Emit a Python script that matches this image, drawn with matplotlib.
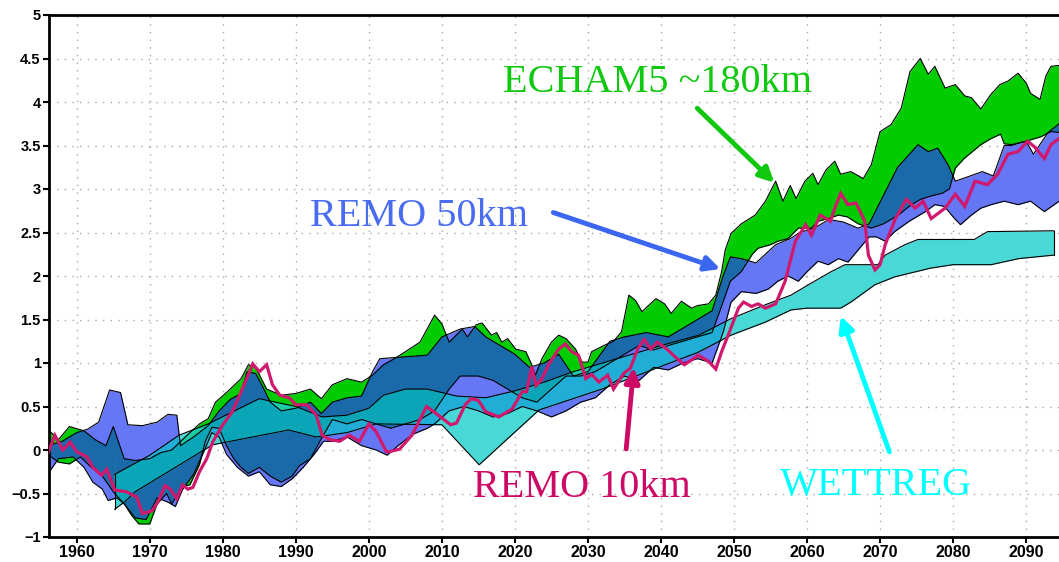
import numpy as np
import matplotlib
matplotlib.use("Agg")
import matplotlib.pyplot as plt

# ---------------- data ----------------
# ECHAM5 ~180km (green band)
echam_hi_years = [1956, 1957.5, 1959, 1961, 1962.5, 1964, 1965, 1966.5, 1968, 1970, 1971.5, 1973, 1974.5,
                  1975.5, 1976.8, 1978, 1979, 1980.5, 1982.5, 1983.5, 1984.5, 1986, 1988, 1990, 1992, 1993.5,
                  1995, 1997, 1999, 2000.5, 2002, 2003.5, 2005, 2007, 2009, 2010, 2011, 2012.8, 2013.5, 2014.7,
                  2015.5, 2016.8, 2017.5, 2018.2, 2019, 2020.1, 2021.5, 2022.3, 2022.8, 2023.7, 2025, 2026, 2027,
                  2028.3, 2029.2, 2030, 2030.5, 2032.4, 2033.5, 2034.6, 2035.6, 2036.5, 2037.4, 2039.3, 2040.5,
                  2041.4, 2042.8, 2044.2, 2045, 2046.5, 2047.5, 2048.3, 2048.8, 2049.6, 2051, 2052.9, 2054.3,
                  2055.7, 2056.7, 2057.7, 2058.5, 2059.7, 2060.8, 2061.5, 2062.6, 2063.8, 2064.6, 2066, 2067.7,
                  2068.8, 2070, 2071.5, 2072.9, 2074.1, 2075.5, 2076.6, 2077.5, 2078.9, 2080.3, 2081.6, 2082.5,
                  2083.8, 2085.2, 2086.4, 2087.5, 2088.9, 2090, 2090.6, 2091.9, 2092.7, 2093.4, 2094.5]
echam_hi = [0.24, 0.12, 0.27, 0.22, 0.12, 0.05, 0.27, -0.1, -0.12, -0.1, -0.03, 0.0, 0.12,
            0.2, 0.3, 0.36, 0.55, 0.66, 0.82, 0.98, 0.95, 0.7, 0.63, 0.65, 0.7, 0.59,
            0.75, 0.82, 0.78, 0.86, 0.98, 1.05, 1.13, 1.24, 1.55, 1.45, 1.24, 1.39, 1.3, 1.44,
            1.46, 1.32, 1.35, 1.24, 1.28, 1.16, 1.13, 0.98, 0.86, 1.05, 1.24, 1.32, 1.28,
            1.16, 1.01, 1.01, 1.13, 1.21, 1.25, 1.36, 1.78, 1.72, 1.59, 1.74, 1.68,
            1.57, 1.71, 1.63, 1.66, 1.68, 1.78, 2.05, 2.3, 2.49, 2.6, 2.7, 2.86,
            3.09, 2.86, 3.04, 2.89, 3.09, 3.18, 3.05, 3.22, 3.32, 3.17, 3.2, 3.12,
            3.28, 3.66, 3.74, 3.93, 4.35, 4.5, 4.32, 4.41, 4.16, 4.2, 4.07, 4.05,
            3.92, 4.09, 4.2, 4.24, 4.33, 4.22, 4.1, 4.03, 4.3, 4.41, 4.42]
echam_lo_years = [1956, 1957.5, 1959, 1960.5, 1962, 1963.5, 1965, 1966.5, 1967.5, 1968.5, 1970, 1971,
                  1972.3, 1973, 1974.5, 1975.5, 1976.8, 1977.6, 1978.5, 1979.5, 1980.5, 1981.5, 1982.5,
                  1983.5, 1985, 1986.5, 1988, 1989.5, 1990.5, 1992, 1993.5, 1995, 1997, 1999, 2001, 2003,
                  2005, 2007, 2009, 2011, 2012.5, 2015, 2017, 2019, 2021, 2023, 2025, 2027, 2029, 2031,
                  2033, 2035, 2037, 2039, 2041, 2043, 2045, 2047, 2048.5, 2049.5, 2051, 2052.5, 2053.3,
                  2055, 2056, 2057.4, 2058.8, 2060.6, 2061.5, 2062.9, 2064.3, 2065.5, 2067, 2068.8,
                  2070.5, 2072.5, 2074, 2075.5, 2077, 2078.5, 2079.5, 2080.3, 2081.5, 2083.8, 2085.2,
                  2086.5, 2087, 2088, 2090, 2092, 2093.4, 2094.5]
echam_lo = [-0.05, -0.14, -0.16, -0.08, -0.2, -0.3, -0.48, -0.62, -0.75, -0.85, -0.85, -0.62,
            -0.5, -0.62, -0.42, -0.4, -0.17, 0.1, 0.26, 0.25, 0.05, -0.1, -0.2,
            -0.27, -0.2, -0.3, -0.37, -0.3, -0.18, -0.1, 0.13, 0.35, 0.3, 0.35, 0.3, 0.25,
            0.3, 0.35, 0.45, 0.7, 0.85, 0.85, 0.8, 0.7, 0.6, 0.55, 0.7, 0.85, 0.85, 0.9,
            1.0, 1.1, 1.2, 1.15, 1.2, 1.25, 1.3, 1.35, 1.7, 1.94, 2.05, 2.25, 2.32,
            2.36, 2.4, 2.43, 2.55, 2.55, 2.63, 2.66, 2.7, 2.68, 2.6, 2.55,
            2.6, 2.7, 2.8, 2.88, 2.92, 2.95, 3.0, 3.24, 3.35, 3.51, 3.58,
            3.63, 3.52, 3.51, 3.55, 3.6, 3.66, 3.65]

# REMO 50km (blue band)
remo50_hi_years = [1956, 1958, 1960, 1961.5, 1963, 1964.5, 1966, 1967, 1969, 1971, 1972.5, 1973.7, 1974.2,
                   1976, 1978, 1979.5, 1981, 1982.5, 1983.3, 1984.5, 1985.5, 1986.5, 1988, 1990, 1992,
                   1993.5, 1995, 1997, 1999, 2000.5, 2001.5, 2008, 2010, 2012.5, 2014.5, 2016, 2018, 2020,
                   2022, 2024, 2026, 2028, 2030, 2033, 2035, 2038, 2041, 2043, 2045, 2047, 2048.5, 2049.5,
                   2051, 2053, 2055.7, 2057.7, 2059, 2061, 2063, 2065, 2067, 2068.5, 2070, 2072.4, 2075.2,
                   2076.6, 2077.9, 2079.3, 2080.3, 2082, 2084, 2085.5, 2087, 2088, 2090, 2091, 2093, 2094.5]
remo50_hi = [0.05, 0.1, 0.2, 0.24, 0.32, 0.69, 0.66, 0.29, 0.28, 0.32, 0.41, 0.4, 0.05,
             0.15, 0.28, 0.45, 0.58, 0.65, 0.9, 0.88, 0.72, 0.55, 0.45, 0.48, 0.55,
             0.42, 0.55, 0.6, 0.62, 0.9, 1.05, 1.09, 1.3, 1.39, 1.42, 1.3, 1.2, 1.1,
             0.95, 1.0, 1.1, 0.85, 0.9, 1.25, 1.3, 1.35, 1.3, 1.4, 1.5, 1.6, 2.0, 2.22,
             2.2, 2.15, 2.36, 2.43, 2.5, 2.55, 2.65, 2.62, 2.55, 2.6, 2.85, 3.25, 3.51,
             3.43, 3.47, 3.28, 3.09, 3.14, 3.2, 3.15, 3.5, 3.5, 3.55, 3.4, 3.65, 3.75]
remo50_lo_years = [1956, 1957.5, 1959.5, 1961, 1962.2, 1963.5, 1964.3, 1965.5, 1966.5, 1968, 1969.5, 1971,
                   1972.5, 1973.5, 1974.5, 1976, 1977.5, 1978.5, 1979.5, 1980.5, 1982, 1983.5, 1985, 1986.5,
                   1988, 1989.5, 1991, 1992.5, 1993.8, 1995, 1997, 1999, 2001, 2002.5, 2004, 2006, 2008,
                   2009, 2011, 2013, 2015, 2017, 2019, 2021, 2023, 2025, 2027, 2029, 2031, 2033, 2035, 2037,
                   2039, 2041, 2043, 2045, 2047, 2048.5, 2049.6, 2051, 2053, 2054.7, 2056, 2057.4, 2058.8,
                   2060, 2061.5, 2062.9, 2064.3, 2065.6, 2067, 2068.5, 2069.5, 2070.7, 2072, 2074, 2076.2,
                   2077.5, 2078.8, 2080.2, 2081, 2082.5, 2083.8, 2085.2, 2087, 2088.9, 2090.6, 2092.5, 2094.5]
remo50_lo = [-0.28, -0.1, -0.08, -0.2, -0.37, -0.45, -0.58, -0.55, -0.62, -0.78, -0.8, -0.55,
             -0.6, -0.65, -0.45, -0.28, 0.0, 0.2, 0.15, -0.05, -0.2, -0.3, -0.25, -0.4,
             -0.42, -0.33, -0.2, -0.05, 0.1, 0.1, 0.15, 0.05, 0.0, -0.06, 0.05, 0.18, 0.25,
             0.3, 0.45, 0.5, 0.45, 0.38, 0.42, 0.5, 0.45, 0.38, 0.45, 0.55, 0.6, 0.75, 0.85, 0.8,
             0.95, 0.92, 1.0, 1.05, 1.0, 1.35, 1.7, 1.82, 1.8, 1.85, 1.94, 2.0, 1.94,
             2.05, 2.17, 2.13, 2.2, 2.16, 2.3, 2.45, 2.45, 2.4, 2.51, 2.63, 2.74,
             2.82, 2.8, 2.66, 2.59, 2.7, 2.78, 2.82, 2.86, 2.82, 2.86, 2.74, 2.86]

# WETTREG (cyan band)
wettreg_hi_years = [1965.2, 1970, 1974, 1978, 1985, 1990, 1993.6, 1997, 2000, 2002, 2005, 2008, 2012, 2016,
                    2020, 2024, 2028, 2032, 2036, 2040, 2045.2, 2049.6, 2054.3, 2057.8, 2060.2, 2063.3,
                    2065.2, 2069.7, 2070.7, 2073.4, 2075.2, 2082.9, 2084.7, 2093.8]
wettreg_hi = [-0.28, -0.06, 0.17, 0.3, 0.59, 0.5, 0.38, 0.4, 0.48, 0.63, 0.7, 0.7, 0.62, 0.6,
              0.68, 0.78, 0.9, 1.0, 1.1, 1.2, 1.32, 1.51, 1.67, 1.78, 1.9, 2.05,
              2.13, 2.13, 2.24, 2.36, 2.42, 2.42, 2.51, 2.52]
wettreg_lo_years = [1965.2, 1966.5, 1968, 1978.6, 1989, 1992.8, 1997, 2001, 2010, 2015.1, 2023.3, 2031.9,
                    2040.6, 2045, 2049.6, 2054.3, 2057.8, 2060, 2064.6, 2066, 2069.3, 2072, 2076.9, 2080,
                    2085.2, 2089, 2093.8]
wettreg_lo = [-0.68, -0.6, -0.48, 0.06, 0.23, 0.15, 0.2, 0.3, 0.29, -0.17, 0.46, 0.7,
              0.98, 1.12, 1.32, 1.47, 1.61, 1.63, 1.63, 1.7, 1.9, 1.99, 2.09, 2.13,
              2.13, 2.2, 2.24]

# REMO 10km (magenta line)
remo10_years = [1956, 1957, 1958.1, 1959.1, 1960, 1961.4, 1962.2, 1963.4, 1964.1, 1965.2, 1966.8, 1968.2,
                1969, 1970.3, 1971.1, 1972.1, 1972.8, 1973.7, 1974.5, 1975.2, 1975.9, 1976.8, 1977.8,
                1978.6, 1980, 1981.3, 1982.3, 1984.1, 1985, 1986, 1986.8, 1987.8, 1989.1, 1990, 1991.5,
                1992.8, 1993.6, 1994.6, 1996, 1997.3, 1998.7, 2000, 2001, 2002.4, 2002.8, 2004.2, 2005.9,
                2007.9, 2009.5, 2011.2, 2012, 2013.2, 2014, 2015, 2016, 2017.8, 2019.6, 2021, 2021.6,
                2022.3, 2022.9, 2023.7, 2024.6, 2026, 2026.9, 2027.8, 2028.7, 2029.7, 2030.5, 2031.5,
                2032.7, 2033.5, 2034.9, 2035.8, 2036.8, 2037.7, 2038.6, 2039.5, 2040.8, 2042.2, 2043.2,
                2044.1, 2045.1, 2046.5, 2047.5, 2048.3, 2049.2, 2050.6, 2051.3, 2052.4, 2053.3, 2054.3,
                2055.7, 2057, 2058.4, 2059.8, 2060.6, 2061.8, 2063.2, 2063.8, 2064.6, 2065.6, 2066.7,
                2067.9, 2068.4, 2069.3, 2070, 2070.7, 2072.1, 2073.6, 2074.8, 2075.9, 2077, 2078.9,
                2080.3, 2081.6, 2083, 2084.7, 2086.1, 2087.5, 2088.9, 2090.2, 2091.2, 2092.5, 2093.4, 2094.5]
remo10 = [-0.05, 0.17, 0.0, 0.09, -0.02, -0.08, -0.2, -0.29, -0.22, -0.46, -0.48, -0.54,
          -0.73, -0.7, -0.6, -0.41, -0.45, -0.56, -0.4, -0.45, -0.43, -0.25, -0.1,
          0.09, 0.29, 0.44, 0.63, 0.99, 0.9, 0.98, 0.75, 0.63, 0.6, 0.52, 0.52,
          0.4, 0.17, 0.12, 0.1, 0.17, 0.1, 0.3, 0.21, -0.02, -0.02, 0.01, 0.17,
          0.5, 0.4, 0.29, 0.31, 0.52, 0.59, 0.57, 0.44, 0.38, 0.47, 0.67, 0.67,
          0.96, 0.74, 0.82, 0.98, 1.16, 1.22, 1.13, 1.09, 0.82, 0.87, 0.78,
          0.86, 0.7, 0.88, 0.94, 1.16, 1.27, 1.16, 1.24, 1.16, 1.05, 0.98,
          1.03, 1.09, 1.02, 0.93, 1.13, 1.32, 1.63, 1.7, 1.65, 1.68, 1.63,
          1.68, 1.94, 2.4, 2.59, 2.47, 2.7, 2.63, 2.78, 2.95, 2.82, 2.84,
          2.63, 2.24, 2.07, 2.13, 2.36, 2.66, 2.88, 2.78, 2.86, 2.66, 2.78,
          2.94, 2.8, 3.09, 3.05, 3.17, 3.4, 3.43, 3.55, 3.48, 3.35, 3.51, 3.58]

x_ticks = [1960, 1970, 1980, 1990, 2000, 2010, 2020, 2030, 2040, 2050, 2060, 2070, 2080, 2090]
y_ticks = [-1, -0.5, 0, 0.5, 1, 1.5, 2, 2.5, 3, 3.5, 4, 4.5, 5]
y_tick_labels = ["\u22121", "\u22120.5", "0", "0.5", "1", "1.5", "2", "2.5", "3", "3.5", "4", "4.5", "5"]

# ---------------- figure ----------------
W, H = 1059, 562
fig = plt.figure(figsize=(W / 100, H / 100), dpi=100)
ax = fig.add_axes([49 / W, 25 / H, 1 - 49 / W, 522 / H])
x0, x1 = 1956.2, 2094.5
ax.set_xlim(x0, x1)
ax.set_ylim(-1, 5)

col_g = "#00cc00"
col_b = "#6677f5"
col_gb = "#1a6aaa"
col_c = "#48d8d6"
col_gc = "#1ccca4"
col_bc = "#20aed6"
col_gbc = "#0aa6b8"

# common rendering grid for computing the overlaps of the three bands
xs = np.linspace(x0, x1, 8000)
gl = np.interp(xs, echam_lo_years, echam_lo)
gu = np.interp(xs, echam_hi_years, echam_hi)
bl = np.interp(xs, remo50_lo_years, remo50_lo)
bu = np.interp(xs, remo50_hi_years, remo50_hi)
cin = (xs >= wettreg_lo_years[0]) & (xs <= wettreg_lo_years[-1])
cl = np.where(cin, np.interp(xs, wettreg_lo_years, wettreg_lo), 99.0)
cu = np.where(cin, np.interp(xs, wettreg_hi_years, wettreg_hi), -99.0)


def region(lows, highs, color):
    lo = np.max(lows, axis=0)
    hi = np.min(highs, axis=0)
    m = hi > lo
    lo2 = np.where(m, lo, 0.0)
    hi2 = np.where(m, hi, 0.0)
    ax.fill_between(xs, lo2, hi2, where=m, interpolate=True, color=color, lw=0, zorder=1)


region([gl], [gu], col_g)
region([bl], [bu], col_b)
region([gl, bl], [gu, bu], col_gb)
region([cl], [cu], col_c)
region([gl, cl], [gu, cu], col_gc)
region([bl, cl], [bu, cu], col_bc)
region([gl, bl, cl], [gu, bu, cu], col_gbc)

# black outlines of every band
for yrs, vals in [(echam_hi_years, echam_hi), (echam_lo_years, echam_lo),
                  (remo50_hi_years, remo50_hi), (remo50_lo_years, remo50_lo),
                  (wettreg_hi_years, wettreg_hi), (wettreg_lo_years, wettreg_lo)]:
    ax.plot(yrs, vals, color="black", lw=0.8, zorder=3)
ax.plot([wettreg_lo_years[0], wettreg_hi_years[0]], [wettreg_lo[0], wettreg_hi[0]], color="black", lw=0.8, zorder=3)
ax.plot([wettreg_lo_years[-1], wettreg_hi_years[-1]], [wettreg_lo[-1], wettreg_hi[-1]], color="black", lw=0.8, zorder=3)

# REMO 10km line
ax.plot(remo10_years, remo10, color="#d0186c", lw=2.3, zorder=4, solid_joinstyle="miter")

# ---------------- axes styling ----------------
ax.set_xticks(x_ticks)
ax.set_yticks(y_ticks)
ax.set_yticklabels(y_tick_labels)
for lab in ax.get_xticklabels():
    lab.set_fontfamily("Liberation Sans")
    lab.set_fontweight("bold")
    lab.set_fontsize(11.5)
for lab in ax.get_yticklabels():
    lab.set_fontfamily("Liberation Sans")
    lab.set_fontweight("bold")
    lab.set_fontsize(10.5)
ax.tick_params(direction="out", length=4, width=1.5, pad=2)
ax.set_axisbelow(True)
ax.grid(True, color="#a8a8a8", linestyle=(0, (1, 4.5)), lw=1.0)
for s in ["left", "bottom", "top"]:
    ax.spines[s].set_linewidth(2.0)
    ax.spines[s].set_color("black")
ax.spines["right"].set_visible(False)

# ---------------- annotations ----------------
serif = "Liberation Serif"
ax.text(2039.5, 4.12, "ECHAM5 ~180km", color="#10c810", fontsize=29, family=serif,
        ha="center", va="baseline", zorder=6)
ax.annotate("", xy=(2055.8, 3.05), xytext=(2044.7, 3.95),
            arrowprops=dict(arrowstyle="-|>", color="#10c810", lw=3.5, mutation_scale=22), zorder=6)

ax.text(2006.9, 2.57, "REMO 50km", color="#4a6cf0", fontsize=29, family=serif,
        ha="center", va="baseline", zorder=6)
ax.annotate("", xy=(2048.5, 2.07), xytext=(2024.9, 2.74),
            arrowprops=dict(arrowstyle="-|>", color="#3a66f0", lw=3.5, mutation_scale=22), zorder=6)

ax.text(2029.1, -0.54, "REMO 10km", color="#cc0a66", fontsize=29, family=serif,
        ha="center", va="baseline", zorder=6)
ax.annotate("", xy=(2036.3, 0.98), xytext=(2035.2, -0.02),
            arrowprops=dict(arrowstyle="-|>", color="#cc0a66", lw=3.5, mutation_scale=22), zorder=6)

ax.text(2069.4, -0.52, "WETTREG", color="#00ffff", fontsize=29, family=serif,
        ha="center", va="baseline", zorder=6)
ax.annotate("", xy=(2064.5, 1.57), xytext=(2071.4, -0.05),
            arrowprops=dict(arrowstyle="-|>", color="#00ffff", lw=3.5, mutation_scale=22), zorder=6)

fig.savefig("out.png", dpi=100)
